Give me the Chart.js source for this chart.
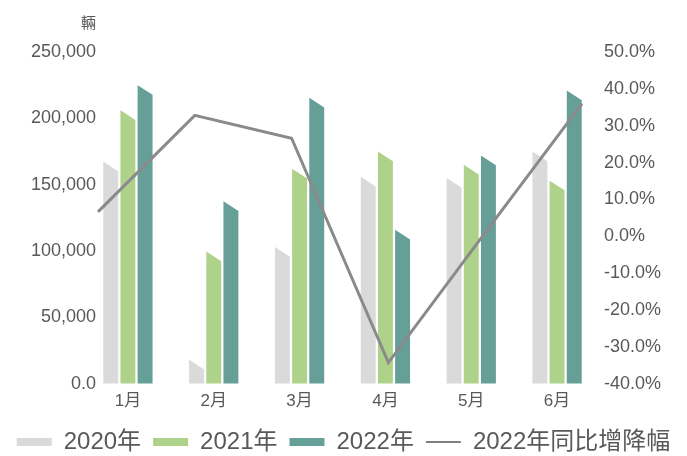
<!DOCTYPE html>
<html>
<head>
<meta charset="utf-8">
<script src="https://cdn.jsdelivr.net/npm/chart.js@4"></script>
<style>
body{margin:0;background:#fff}
#wrap{width:687px;height:456px}
</style>
</head>
<body>
<div id="wrap"><canvas id="chart"></canvas></div>
<script>
let months=["1月","2月","3月","4月","5月","6月"]
let sales2020=[167500,18000,103000,156000,155000,175000]
let sales2021=[206000,99500,162000,175000,165000,153000]
let sales2022=[225000,137500,215500,116000,172000,221000]
let growth2022=[6.6,32.8,26.6,-34.3,1.0,36.0]
let leftTicks=[0,50000,100000,150000,200000,250000]
let rightTicks=[-40,-30,-20,-10,0,10,20,30,40,50]

let font="'Liberation Sans','Noto Sans CJK SC',sans-serif"
let textColor="#595959"

Chart.defaults.font.family=font
Chart.defaults.color=textColor

// the line sits on its own hidden x axis, don't let bars split their slot for it
if(Chart.BarController.prototype._getAxisCount){
Chart.BarController.prototype._getAxisCount=function(){return 1}
}

// bars with a slanted top edge
let slantBars={
id:"slantBars",
beforeDatasetDraw(chart,args){
let meta=args.meta
if(meta.type!=="bar") return
let ctx=chart.ctx
ctx.save()
ctx.fillStyle=chart.data.datasets[meta.index].backgroundColor
meta.data.forEach(bar=>{
let p=bar.getProps(["x","y","base","width"],true)
let l=p.x-p.width/2
let r=p.x+p.width/2
let drop=Math.min(p.width*0.65,p.base-p.y)
ctx.beginPath()
ctx.moveTo(l,p.y)
ctx.lineTo(r,p.y+drop)
ctx.lineTo(r,p.base)
ctx.lineTo(l,p.base)
ctx.closePath()
ctx.fill()
})
ctx.restore()
return false
}
}

let unitLabel={
id:"unitLabel",
afterDraw(chart){
let ctx=chart.ctx
ctx.save()
ctx.font="15px "+font
ctx.fillStyle=textColor
ctx.textAlign="right"
ctx.textBaseline="middle"
ctx.fillText("輛",chart.chartArea.left+11,chart.chartArea.top-28)
ctx.restore()
}
}

let ctx=document.getElementById("chart")

new Chart(ctx,{
type:"bar",
data:{
labels:months,
datasets:[
{type:"bar",label:"2020年",data:sales2020,backgroundColor:"#dadada",borderWidth:0,order:1},
{type:"bar",label:"2021年",data:sales2021,backgroundColor:"#aed28a",borderWidth:0,order:1},
{type:"bar",label:"2022年",data:sales2022,backgroundColor:"#669e98",borderWidth:0,order:1},
{type:"line",label:"2022年同比增降幅",data:growth2022.map((v,i)=>({x:i,y:v})),
xAxisID:"x2",yAxisID:"y1",borderColor:"#8a8a8a",backgroundColor:"#8a8a8a",
borderWidth:3,pointRadius:0,tension:0,order:0}
]
},
options:{
responsive:true,
maintainAspectRatio:false,
animation:false,
layout:{padding:{left:0,right:0,top:52,bottom:-8}},
datasets:{bar:{categoryPercentage:0.6,barPercentage:0.87}},
plugins:{
tooltip:{enabled:false},
legend:{
position:"bottom",
labels:{
usePointStyle:true,
pointStyleWidth:35,
boxHeight:8,
padding:12,
color:textColor,
font:{size:24},
generateLabels(chart){
let items=Chart.defaults.plugins.legend.labels.generateLabels(chart)
items.sort((a,b)=>a.datasetIndex-b.datasetIndex)
items.forEach(it=>{
let ds=chart.data.datasets[it.datasetIndex]
if(ds.type==="line"){
it.pointStyle="line"
it.lineWidth=2
it.strokeStyle="#808080"
}
else{
it.pointStyle="rect"
it.lineWidth=0
}
})
return items
}
}
}
},
scales:{
x:{
offset:true,
grid:{display:false},
border:{display:false},
afterFit(scale){scale.height+=6},
ticks:{padding:0,font:{size:17}}
},
x2:{
type:"linear",
display:false,
offset:false,
min:-0.134,
max:5.186
},
y:{
position:"left",
min:leftTicks[0],
max:leftTicks[leftTicks.length-1],
grid:{display:false,drawTicks:false},
border:{display:false},
afterFit(scale){
scale.width=85
scale._computeLabelArea=function(){return undefined}
},
ticks:{
stepSize:leftTicks[1]-leftTicks[0],
padding:-11,
font:{size:18},
callback:v=>v===0?"0.0":v.toLocaleString("en-US")
}
},
y1:{
position:"right",
min:rightTicks[0],
max:rightTicks[rightTicks.length-1],
grid:{display:false,drawTicks:false},
border:{display:false},
afterFit(scale){scale.width=87},
ticks:{
stepSize:rightTicks[1]-rightTicks[0],
padding:4,
font:{size:18},
callback:v=>v.toFixed(1)+"%"
}
}
}
},
plugins:[slantBars,unitLabel]
})
</script>
</body>
</html>
